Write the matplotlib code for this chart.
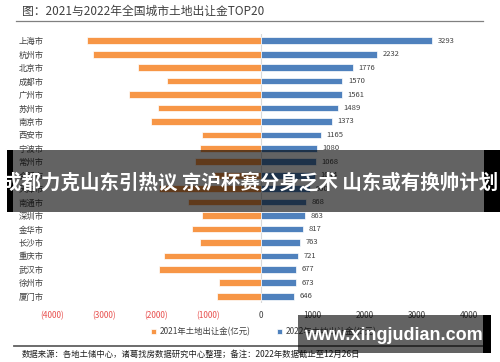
import matplotlib.pyplot as plt
from matplotlib.patches import Rectangle
import numpy as np

plt.rcParams['font.family'] = ['Noto Sans CJK SC', 'DejaVu Sans']

cities = ["上海市", "杭州市", "北京市", "成都市", "广州市", "苏州市", "南京市", "西安市", "宁波市", "常州市",
          "合肥市", "天津市", "南通市", "深圳市", "金华市", "长沙市", "重庆市", "武汉市", "徐州市", "厦门市"]
land_2021 = [3330, 3205, 2346, 1788, 2519, 1962, 2096, 1115, 1154, 1250,
             885, 1950, 1385, 1115, 1308, 1154, 1846, 1942, 788, 827]
land_2022 = [3293, 2232, 1776, 1570, 1561, 1489, 1373, 1165, 1080, 1068,
             1044, 950, 868, 863, 817, 763, 721, 677, 673, 646]
ticks = [-4000, -3000, -2000, -1000, 0, 1000, 2000, 3000, 4000]

orange = "#F79646"
blue = "#4F81BD"

fig = plt.figure(figsize=(5, 3.62), dpi=100)
ax = fig.add_axes([0.104, 0.163, 0.834, 0.743])

y = np.arange(len(cities))
ax.barh(y, [-v for v in land_2021], height=0.5, color=orange, edgecolor="white", linewidth=0.5,
        label="2021年土地出让金(亿元)")
bars = ax.barh(y, land_2022, height=0.5, color=blue, edgecolor="white", linewidth=0.5,
               label="2022年土地出让金(亿元)")
ax.bar_label(bars, labels=[str(v) for v in land_2022], padding=4, fontsize=5.5, color="#404040")
ax.axvline(0, color="#d9d9d9", lw=0.8, zorder=0)

ax.set_xlim(-4000, 4000)
ax.set_ylim(len(cities) - 0.5, -0.5)
ax.set_yticks(y)
ax.set_yticklabels(cities, fontsize=6, color="#404040")
ax.set_xticks(ticks)
ax.set_xticklabels([f"({abs(t)})" if t < 0 else str(t) for t in ticks], fontsize=6)
for lab, t in zip(ax.get_xticklabels(), ticks):
    lab.set_color("#e8514f" if t < 0 else "#404040")
ax.tick_params(length=0, pad=6)
for s in ax.spines.values():
    s.set_visible(False)

ax.legend(ncol=2, loc="center", bbox_to_anchor=(0.528, 0.083), bbox_transform=fig.transFigure,
          frameon=False, fontsize=6, handlelength=0.6, handleheight=0.6, handletextpad=0.4,
          columnspacing=3.2, labelcolor="#404040")

# title, rules and source
fig.text(0.044, 0.97, "图：2021与2022年全国城市土地出让金TOP20", fontsize=8.5, color="#404040", va="center")
fig.add_artist(plt.Line2D([0.032, 0.966], [0.942, 0.942], color="#808080", lw=0.9))
fig.add_artist(plt.Line2D([0.028, 0.966], [0.045, 0.045], color="#606060", lw=1.3))
fig.text(0.044, 0.022, "数据来源：各地土储中心，诸葛找房数据研究中心整理；备注：2022年数据截止至12月26日",
         fontsize=6, color="#202020", va="center")

# overlay banner
H = 362.0
def px_rect(x0, y0, x1, y1, color, alpha, z=10):
    fig.add_artist(Rectangle((x0 / 500, 1 - y1 / H), (x1 - x0) / 500, (y1 - y0) / H,
                             transform=fig.transFigure, facecolor=color, alpha=alpha,
                             edgecolor="none", zorder=z))

px_rect(13, 150, 484, 212, "black", 0.61)
px_rect(7, 150, 13, 212, "black", 1.0)
px_rect(484, 150, 500, 212, "black", 1.0)
t = fig.text(0.5, 1 - 183 / H, "成都力克山东引热议 京沪杯赛分身乏术 山东或有换帅计划", fontsize=14,
             fontweight="bold", color="white", ha="center", va="center")
t.set_zorder(11)

px_rect(298, 315, 483, 353, "black", 0.61)
px_rect(483, 315, 491, 353, "black", 1.0)
w = fig.text(393 / 500, 1 - 336 / H, "www.xingjudian.com", fontsize=13, fontweight="bold",
             color="white", ha="center", va="center", family=["Liberation Sans"])
w.set_zorder(11)

fig.savefig("out.png", dpi=100)
